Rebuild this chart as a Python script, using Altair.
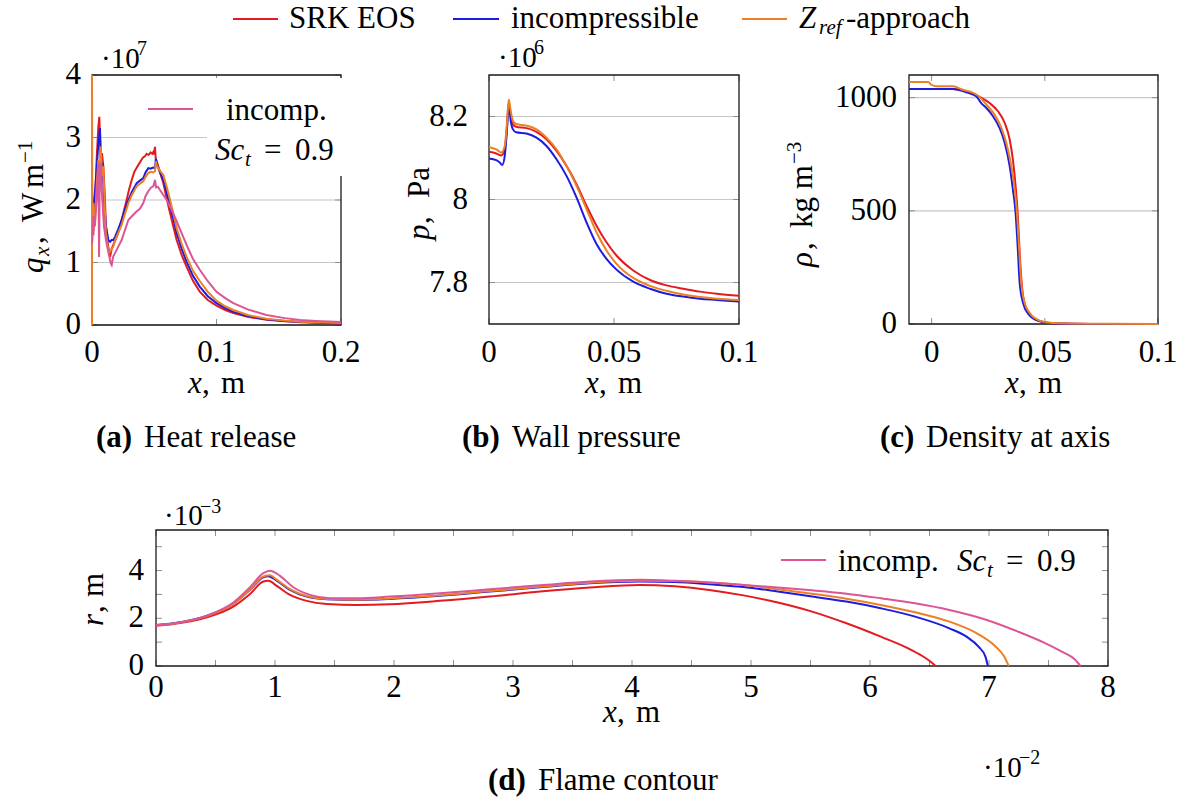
import altair as alt
import pandas as pd

FONT = "Liberation Serif"
W, H = 1180, 800
TL = 6                      # inward tick length
TICK = "#8f8f8f"
GRID = "#c6c6c6"
FRAME = "#1a1a1a"

SERIES = ["SRK EOS", "incompressible", "Z_ref-approach", "incomp. Sc_t = 0.9"]
COLORS = ["#e31b1f", "#1c1ce0", "#ec8024", "#db5597"]

# (a) heat release q_x [1e7 W/m] along x [m]
heat_srk = [(0.0, 1.50), (0.0011, 1.47), (0.0024, 1.95), (0.0037, 2.64), (0.0051, 3.18), (0.0059, 3.33),
            (0.0070, 2.64), (0.0080, 2.75), (0.0091, 2.54), (0.0102, 2.11), (0.0112, 1.58), (0.0131, 1.25),
            (0.0145, 1.09), (0.0158, 1.22), (0.0175, 1.30), (0.0198, 1.41), (0.0218, 1.52), (0.0238, 1.68),
            (0.0258, 1.84), (0.0278, 2.00), (0.0298, 2.17), (0.0319, 2.32), (0.0340, 2.45), (0.0360, 2.52),
            (0.0372, 2.56), (0.0390, 2.62), (0.0410, 2.68), (0.0425, 2.70), (0.0439, 2.74), (0.0455, 2.72),
            (0.0470, 2.76), (0.0484, 2.74), (0.0493, 2.77), (0.0500, 2.73), (0.0506, 2.85), (0.0512, 2.66),
            (0.0520, 2.62), (0.0545, 2.45), (0.0573, 2.27), (0.0600, 2.02), (0.0627, 1.79), (0.0655, 1.56),
            (0.0680, 1.36), (0.0720, 1.12), (0.0760, 0.93), (0.0810, 0.71), (0.0867, 0.53), (0.0930, 0.40),
            (0.1000, 0.31), (0.1070, 0.24), (0.1135, 0.19), (0.1250, 0.13), (0.1400, 0.085), (0.1550, 0.06),
            (0.1670, 0.045), (0.1800, 0.035), (0.2000, 0.022)]
heat_incomp = [(0.0, 1.50), (0.0008, 1.68), (0.0016, 2.00), (0.0027, 2.20), (0.0037, 2.48), (0.0051, 2.91),
               (0.0064, 3.15), (0.0075, 2.48), (0.0085, 2.60), (0.0096, 2.00), (0.0112, 1.58), (0.0131, 1.36),
               (0.0145, 1.33), (0.0158, 1.36), (0.0171, 1.36), (0.0185, 1.41), (0.0210, 1.53), (0.0238, 1.68),
               (0.0265, 1.85), (0.0292, 2.00), (0.0320, 2.13), (0.0340, 2.20), (0.0359, 2.27), (0.0385, 2.31),
               (0.0412, 2.35), (0.0430, 2.44), (0.0452, 2.51), (0.0470, 2.50), (0.0490, 2.52), (0.0506, 2.51),
               (0.0513, 2.66), (0.0520, 2.58), (0.0545, 2.45), (0.0573, 2.32), (0.0600, 2.12), (0.0627, 1.90),
               (0.0655, 1.68), (0.0680, 1.47), (0.0720, 1.22), (0.0760, 1.01), (0.0810, 0.79), (0.0867, 0.61),
               (0.0930, 0.46), (0.1000, 0.35), (0.1070, 0.27), (0.1135, 0.21), (0.1250, 0.145), (0.1400, 0.09),
               (0.1550, 0.065), (0.1670, 0.05), (0.1800, 0.038), (0.2000, 0.027)]
heat_zref = [(0.0, 0.0), (0.0, 4.3), (0.0003, 1.47), (0.0011, 1.95), (0.0024, 1.58), (0.0037, 2.22),
             (0.0051, 2.64), (0.0059, 2.11), (0.0070, 2.86), (0.0080, 2.38), (0.0091, 2.54), (0.0102, 1.89),
             (0.0112, 1.47), (0.0131, 1.20), (0.0145, 1.17), (0.0158, 1.22), (0.0171, 1.25), (0.0185, 1.36),
             (0.0210, 1.47), (0.0238, 1.60), (0.0265, 1.78), (0.0292, 1.95), (0.0320, 2.08), (0.0340, 2.15),
             (0.0359, 2.22), (0.0385, 2.26), (0.0412, 2.30), (0.0430, 2.37), (0.0452, 2.43), (0.0470, 2.45),
             (0.0490, 2.44), (0.0506, 2.46), (0.0513, 2.62), (0.0520, 2.55), (0.0545, 2.47), (0.0573, 2.40),
             (0.0600, 2.21), (0.0627, 2.00), (0.0655, 1.77), (0.0680, 1.55), (0.0720, 1.30), (0.0760, 1.09),
             (0.0810, 0.87), (0.0867, 0.70), (0.0930, 0.53), (0.1000, 0.39), (0.1070, 0.30), (0.1135, 0.24),
             (0.1250, 0.16), (0.1400, 0.10), (0.1550, 0.07), (0.1670, 0.053), (0.1800, 0.042), (0.2000, 0.03)]
heat_sct = [(0.0, 1.30), (0.0003, 1.36), (0.0011, 1.74), (0.0021, 1.58), (0.0037, 2.00), (0.0051, 2.59),
            (0.0057, 1.09), (0.0062, 2.40), (0.0070, 2.60), (0.0080, 2.10), (0.0096, 1.58), (0.0112, 1.36),
            (0.0131, 1.17), (0.0150, 0.99), (0.0158, 0.96), (0.0171, 1.10), (0.0185, 1.15), (0.0210, 1.25),
            (0.0238, 1.36), (0.0265, 1.52), (0.0292, 1.68), (0.0320, 1.74), (0.0340, 1.78), (0.0359, 1.82),
            (0.0385, 1.86), (0.0412, 1.95), (0.0430, 2.06), (0.0452, 2.14), (0.0475, 2.20), (0.0493, 2.22),
            (0.0506, 2.32), (0.0515, 2.20), (0.0530, 2.21), (0.0546, 2.16), (0.0573, 2.08), (0.0600, 2.00),
            (0.0640, 1.84), (0.0680, 1.66), (0.0720, 1.47), (0.0760, 1.28), (0.0810, 1.06), (0.0867, 0.88),
            (0.0930, 0.70), (0.1000, 0.53), (0.1070, 0.43), (0.1135, 0.35), (0.1250, 0.25), (0.1400, 0.16),
            (0.1550, 0.11), (0.1670, 0.08), (0.1800, 0.065), (0.2000, 0.05)]

# (b) wall pressure p [1e6 Pa] along x [m]
pres_srk = [(0.0, 8.115), (0.0029, 8.111), (0.0049, 8.106), (0.0063, 8.121), (0.0072, 8.177), (0.0079, 8.233),
            (0.0087, 8.205), (0.0096, 8.181), (0.0109, 8.175), (0.015, 8.172), (0.019, 8.163), (0.023, 8.145),
            (0.027, 8.117), (0.031, 8.081), (0.035, 8.037), (0.039, 7.985), (0.043, 7.937), (0.047, 7.897),
            (0.051, 7.865), (0.0577, 7.829), (0.0644, 7.806), (0.071, 7.793), (0.0777, 7.785), (0.0844, 7.778),
            (0.0911, 7.773), (0.1, 7.768)]
pres_incomp = [(0.0, 8.099), (0.0029, 8.095), (0.0043, 8.089), (0.0053, 8.083), (0.0063, 8.105), (0.0072, 8.169),
               (0.0079, 8.229), (0.0087, 8.189), (0.0096, 8.169), (0.0109, 8.162), (0.015, 8.159), (0.019, 8.149),
               (0.023, 8.129), (0.027, 8.097), (0.031, 8.057), (0.035, 8.005), (0.039, 7.945), (0.043, 7.893),
               (0.047, 7.857), (0.051, 7.831), (0.0577, 7.802), (0.0644, 7.785), (0.071, 7.773), (0.0777, 7.766),
               (0.0844, 7.761), (0.0911, 7.758), (0.1, 7.754)]
pres_zref = [(0.0, 8.126), (0.0029, 8.121), (0.0049, 8.113), (0.0063, 8.129), (0.0072, 8.185), (0.0079, 8.241),
             (0.0087, 8.213), (0.0096, 8.189), (0.0109, 8.182), (0.015, 8.178), (0.019, 8.169), (0.023, 8.149),
             (0.027, 8.121), (0.031, 8.081), (0.035, 8.033), (0.039, 7.977), (0.043, 7.921), (0.047, 7.877),
             (0.051, 7.845), (0.0577, 7.811), (0.0644, 7.792), (0.071, 7.780), (0.0777, 7.771), (0.0844, 7.765),
             (0.0911, 7.761), (0.1, 7.758)]

# (c) density rho [kg/m^3] on the axis along x [m]
rho_srk = [(-0.01, 1038), (0.0094, 1038), (0.0153, 1028), (0.0212, 1003), (0.0256, 976), (0.0293, 940),
           (0.0323, 888), (0.0345, 814), (0.0359, 726), (0.0371, 608), (0.0380, 490), (0.0389, 314),
           (0.0399, 166), (0.0414, 78), (0.0440, 34), (0.0477, 12), (0.0536, 3), (0.07, 0.5), (0.1, 0)]
rho_incomp = [(-0.01, 1038), (0.0094, 1038), (0.0153, 1024), (0.0197, 1006), (0.0219, 976), (0.0242, 954),
              (0.0271, 918), (0.0300, 866), (0.0323, 800), (0.0345, 697), (0.0359, 594), (0.0371, 490),
              (0.0380, 343), (0.0389, 181), (0.0404, 93), (0.0426, 46), (0.0470, 15), (0.0536, 3), (0.07, 0.5),
              (0.1, 0)]
rho_zref = [(-0.01, 1069), (-0.0016, 1069), (-0.0001, 1057), (0.0021, 1050), (0.0094, 1050), (0.0138, 1035),
            (0.0183, 1021), (0.0212, 1003), (0.0242, 969), (0.0278, 925), (0.0308, 866), (0.0330, 800),
            (0.0352, 697), (0.0367, 594), (0.0377, 490), (0.0386, 343), (0.0396, 181), (0.0411, 93),
            (0.0433, 49), (0.0477, 15), (0.0536, 4), (0.07, 1), (0.1, 0)]

# (d) flame contour r [1e-3 m] along x [1e-2 m]
flame_srk = [(0, 1.69), (0.146, 1.76), (0.426, 2.04), (0.65, 2.49), (0.79, 3.02), (0.902, 3.54), (0.944, 3.57),
             (1.014, 3.36), (1.126, 2.98), (1.266, 2.73), (1.434, 2.60), (1.686, 2.56), (1.966, 2.59),
             (2.387, 2.73), (2.807, 2.91), (3.227, 3.12), (3.647, 3.29), (4.067, 3.40), (4.36, 3.34),
             (4.648, 3.19), (4.937, 2.96), (5.225, 2.66), (5.513, 2.28), (5.802, 1.79), (6.09, 1.23),
             (6.321, 0.74), (6.44, 0.42), (6.51, 0.18), (6.552, 0.0)]
flame_incomp = [(0, 1.72), (0.146, 1.79), (0.426, 2.10), (0.65, 2.60), (0.79, 3.19), (0.902, 3.72), (0.944, 3.76),
                (1.014, 3.58), (1.126, 3.19), (1.266, 2.91), (1.434, 2.80), (1.686, 2.77), (1.966, 2.81),
                (2.387, 2.94), (2.807, 3.12), (3.227, 3.30), (3.647, 3.47), (4.067, 3.54), (4.36, 3.52),
                (4.648, 3.43), (4.937, 3.31), (5.225, 3.12), (5.513, 2.91), (5.802, 2.70), (6.09, 2.42),
                (6.379, 2.07), (6.667, 1.58), (6.811, 1.23), (6.912, 0.81), (6.970, 0.39), (6.990, 0.0)]
flame_zref = [(0, 1.71), (0.146, 1.78), (0.426, 2.09), (0.65, 2.60), (0.79, 3.20), (0.902, 3.75), (0.958, 3.80),
              (1.014, 3.62), (1.126, 3.22), (1.266, 2.93), (1.434, 2.81), (1.686, 2.78), (1.966, 2.83),
              (2.387, 2.96), (2.807, 3.14), (3.227, 3.32), (3.647, 3.49), (4.067, 3.57), (4.36, 3.56),
              (4.648, 3.50), (4.937, 3.39), (5.225, 3.22), (5.513, 3.03), (5.802, 2.82), (6.09, 2.56),
              (6.379, 2.25), (6.667, 1.86), (6.898, 1.37), (7.042, 0.88), (7.129, 0.39), (7.166, 0.0)]
flame_sct = [(0, 1.71), (0.146, 1.78), (0.426, 2.11), (0.65, 2.66), (0.79, 3.30), (0.902, 3.89), (0.958, 3.99),
             (1.042, 3.78), (1.154, 3.30), (1.294, 2.98), (1.462, 2.84), (1.686, 2.84), (1.966, 2.91),
             (2.387, 3.05), (2.807, 3.22), (3.227, 3.38), (3.647, 3.54), (4.067, 3.61), (4.36, 3.57),
             (4.648, 3.50), (4.937, 3.40), (5.225, 3.29), (5.513, 3.17), (5.802, 3.03), (6.09, 2.84),
             (6.379, 2.63), (6.667, 2.35), (6.956, 1.97), (7.244, 1.44), (7.475, 0.95), (7.62, 0.58),
             (7.72, 0.28), (7.769, 0.0)]

# tick values and tick labels per panel
a_xticks, a_xlabels = [0, 0.1, 0.2], ["0", "0.1", "0.2"]
a_yticks, a_ylabels = [0, 1, 2, 3, 4], ["0", "1", "2", "3", "4"]
b_xticks, b_xlabels = [0, 0.05, 0.1], ["0", "0.05", "0.1"]
b_yticks, b_ylabels = [7.8, 8.0, 8.2], ["7.8", "8", "8.2"]
c_xticks, c_xlabels = [0, 0.05, 0.1], ["0", "0.05", "0.1"]
c_yticks, c_ylabels = [0, 500, 1000], ["0", "500", "1000"]
d_xticks = [0, 0.5, 1, 1.5, 2, 2.5, 3, 3.5, 4, 4.5, 5, 5.5, 6, 6.5, 7, 7.5, 8]
d_xlabels = ["0", "", "1", "", "2", "", "3", "", "4", "", "5", "", "6", "", "7", "", "8"]
d_yticks, d_ylabels = [0, 1, 2, 3, 4, 5], ["0", "", "2", "", "4", ""]

# panel placement on the canvas (pixels) and data domains
GEO = {
    "a": dict(left=92, right=341, top=75, bottom=325, xdom=[0, 0.2], ydom=[0, 4]),
    "b": dict(left=489, right=739, top=75, bottom=324, xdom=[0, 0.1], ydom=[7.7, 8.3]),
    "c": dict(left=909, right=1158, top=75, bottom=324, xdom=[-0.01, 0.1], ydom=[0, 1100]),
    "d": dict(left=156, right=1108, top=530, bottom=666, xdom=[0, 8], ydom=[0, 5.7]),
}

ONE = pd.DataFrame({"k": [0]})
COLOR = alt.Scale(domain=SERIES, range=COLORS)


def long_frame(named):
    rows = []
    for name, pts in named:
        for i, (x, y) in enumerate(pts):
            rows.append({"series": name, "x": x, "y": y, "i": i})
    return pd.DataFrame(rows)


def panel(df, g, xt, xl, yt, yl, xpad, ypad, grid=True, interp="linear"):
    xs = alt.Scale(domain=g["xdom"], range=[g["left"], g["right"]], nice=False, zero=False, clamp=True)
    ys = alt.Scale(domain=g["ydom"], range=[g["bottom"], g["top"]], nice=False, zero=False, clamp=True)
    X = lambda f: alt.X(f, scale=xs, axis=None)
    Y = lambda f: alt.Y(f, scale=ys, axis=None)
    tx = pd.DataFrame({"v": xt, "lab": xl})
    ty = pd.DataFrame({"v": yt, "lab": yl})
    L, R, T, B = g["left"], g["right"], g["top"], g["bottom"]

    parts = []
    if grid:
        parts.append(
            alt.Chart(ty).mark_rule(color=GRID, strokeWidth=1.2).encode(
                y=Y("v:Q"),
                x=alt.XDatum(g["xdom"][0], scale=xs, axis=None, type="quantitative"),
                x2=alt.X2Datum(g["xdom"][1]),
            )
        )
    # inward ticks on all four sides
    tick = alt.Chart(tx).mark_rule(color=TICK, strokeWidth=1)
    parts.append(tick.encode(x=X("v:Q"), y=alt.value(B), y2=alt.value(B - TL)))
    parts.append(tick.encode(x=X("v:Q"), y=alt.value(T), y2=alt.value(T + TL)))
    tick = alt.Chart(ty).mark_rule(color=TICK, strokeWidth=1)
    parts.append(tick.encode(y=Y("v:Q"), x=alt.value(L), x2=alt.value(L + TL)))
    parts.append(tick.encode(y=Y("v:Q"), x=alt.value(R), x2=alt.value(R - TL)))
    # frame
    parts.append(
        alt.Chart(ONE).mark_rect(fillOpacity=0, stroke=FRAME, strokeWidth=1.3).encode(
            x=alt.XDatum(g["xdom"][0], scale=xs, axis=None, type="quantitative"),
            x2=alt.X2Datum(g["xdom"][1]),
            y=alt.YDatum(g["ydom"][0], scale=ys, axis=None, type="quantitative"),
            y2=alt.Y2Datum(g["ydom"][1]),
        )
    )
    # curves
    parts.append(
        alt.Chart(df).mark_line(strokeWidth=2, interpolate=interp).encode(
            x=X("x:Q"), y=Y("y:Q"),
            color=alt.Color("series:N", scale=COLOR, legend=None),
            order=alt.Order("i:Q"),
        )
    )
    # tick labels
    parts.append(
        alt.Chart(tx).mark_text(font=FONT, fontSize=31, align="center", baseline="alphabetic",
                                color="black").encode(x=X("v:Q"), y=alt.value(B + xpad), text="lab:N")
    )
    parts.append(
        alt.Chart(ty).mark_text(font=FONT, fontSize=31, align="right", baseline="middle",
                                color="black").encode(y=Y("v:Q"), x=alt.value(L - ypad), text="lab:N")
    )
    return alt.layer(*parts)


df_a = long_frame(zip(SERIES, [heat_srk, heat_incomp, heat_zref, heat_sct]))
df_b = long_frame(zip(SERIES[:3], [pres_srk, pres_incomp, pres_zref]))
df_c = long_frame(zip(SERIES[:3], [rho_srk, rho_incomp, rho_zref]))
df_d = long_frame(zip(SERIES, [flame_srk, flame_incomp, flame_zref, flame_sct]))

layers = [
    panel(df_a, GEO["a"], a_xticks, a_xlabels, a_yticks, a_ylabels, xpad=37, ypad=11),
    panel(df_b, GEO["b"], b_xticks, b_xlabels, b_yticks, b_ylabels, xpad=38, ypad=21, interp="monotone"),
    panel(df_c, GEO["c"], c_xticks, c_xlabels, c_yticks, c_ylabels, xpad=38, ypad=12, interp="monotone"),
    panel(df_d, GEO["d"], d_xticks, d_xlabels, d_yticks, d_ylabels, xpad=31, ypad=12, grid=False,
          interp="monotone"),
]

# white legend box inside panel (a)
layers.append(
    alt.Chart(ONE).mark_rect(color="white").encode(
        x=alt.value(207), x2=alt.value(352), y=alt.value(78), y2=alt.value(176)
    )
)

# legend swatches: (x start, x end, y, series index)
SWATCHES = [(233, 278, 19, 0), (453, 499, 19, 1), (742, 787, 19, 2), (148, 193, 109, 3), (781, 826, 560, 3)]
for x1, x2, y, s in SWATCHES:
    layers.append(
        alt.Chart(ONE).mark_rule(color=COLORS[s], strokeWidth=2).encode(
            x=alt.value(x1), x2=alt.value(x2), y=alt.value(y)
        )
    )

# text pieces: (text, x, baseline y, size, style, angle)
TEXTS = [
    # top legend
    ("SRK EOS", 289, 28, 31, "", 0),
    ("incompressible", 511, 28, 31, "", 0),
    ("Z", 799, 28, 31, "i", 0), ("ref", 819, 34, 21, "i", 0), ("-approach", 846, 28, 31, "", 0),
    # panel (a)
    ("·10", 101, 68, 29, "", 0), ("7", 137, 55, 20, "", 0),
    ("incomp.", 226, 120, 31, "", 0),
    ("Sc", 215, 160, 31, "i", 0), ("t", 245, 166, 21, "i", 0), ("=", 264, 160, 31, "", 0), ("0.9", 295, 160, 31, "", 0),
    ("x", 188, 393, 31, "i", 0), (",", 202, 393, 31, "", 0), ("m", 221, 393, 31, "", 0),
    ("q", 43, 273, 31, "i", 270), ("x", 49, 256, 21, "i", 270), (",", 43, 244, 31, "", 270),
    ("W", 43, 222, 31, "", 270), ("m", 43, 188, 31, "", 270), ("\u22121", 32, 163, 21, "", 270),
    ("(a)", 96, 447, 31, "b", 0), ("Heat release", 144, 447, 31, "", 0),
    # panel (b)
    ("·10", 498, 67, 29, "", 0), ("6", 534, 54, 20, "", 0),
    ("x", 585, 393, 31, "i", 0), (",", 599, 393, 31, "", 0), ("m", 618, 393, 31, "", 0),
    ("p", 429, 240, 31, "i", 270), (",", 429, 224, 31, "", 270), ("Pa", 429, 198, 31, "", 270),
    ("(b)", 462, 447, 31, "b", 0), ("Wall pressure", 512, 447, 31, "", 0),
    # panel (c)
    ("x", 1005, 393, 31, "i", 0), (",", 1019, 393, 31, "", 0), ("m", 1038, 393, 31, "", 0),
    ("ρ", 812, 267, 31, "i", 270), (",", 812, 250, 31, "", 270), ("kg m", 812, 228, 31, "", 270),
    ("\u22123", 801, 164, 21, "", 270),
    ("(c)", 880, 447, 31, "b", 0), ("Density at axis", 926, 447, 31, "", 0),
    # panel (d)
    ("·10", 164, 525, 29, "", 0), ("\u22123", 200, 513, 20, "", 0),
    ("incomp.", 838, 571, 31, "", 0),
    ("Sc", 957, 571, 31, "i", 0), ("t", 987, 577, 21, "i", 0), ("=", 1006, 571, 31, "", 0), ("0.9", 1037, 571, 31, "", 0),
    ("x", 603, 722, 31, "i", 0), (",", 617, 722, 31, "", 0), ("m", 636, 722, 31, "", 0),
    ("r", 103, 626, 31, "i", 270), (",", 103, 613, 31, "", 270), ("m", 103, 597, 31, "", 270),
    ("·10", 983, 777, 29, "", 0), ("\u22122", 1019, 764, 20, "", 0),
    ("(d)", 488, 790, 31, "b", 0), ("Flame contour", 538, 790, 31, "", 0),
]

for text, x, y, size, style, angle in TEXTS:
    layers.append(
        alt.Chart(ONE).mark_text(
            text=text, font=FONT, fontSize=size, align="left", baseline="alphabetic",
            fontStyle="italic" if "i" in style else "normal",
            fontWeight="bold" if "b" in style else "normal",
            angle=angle, color="black",
        ).encode(x=alt.value(x), y=alt.value(y))
    )

chart = (
    alt.layer(*layers)
    .resolve_scale(x="independent", y="independent")
    .properties(width=W, height=H, autosize=alt.AutoSizeParams(type="none"), padding=0, background="white")
    .configure_view(stroke=None)
)

chart.save("out.html", embed_options={"renderer": "svg", "actions": False})
